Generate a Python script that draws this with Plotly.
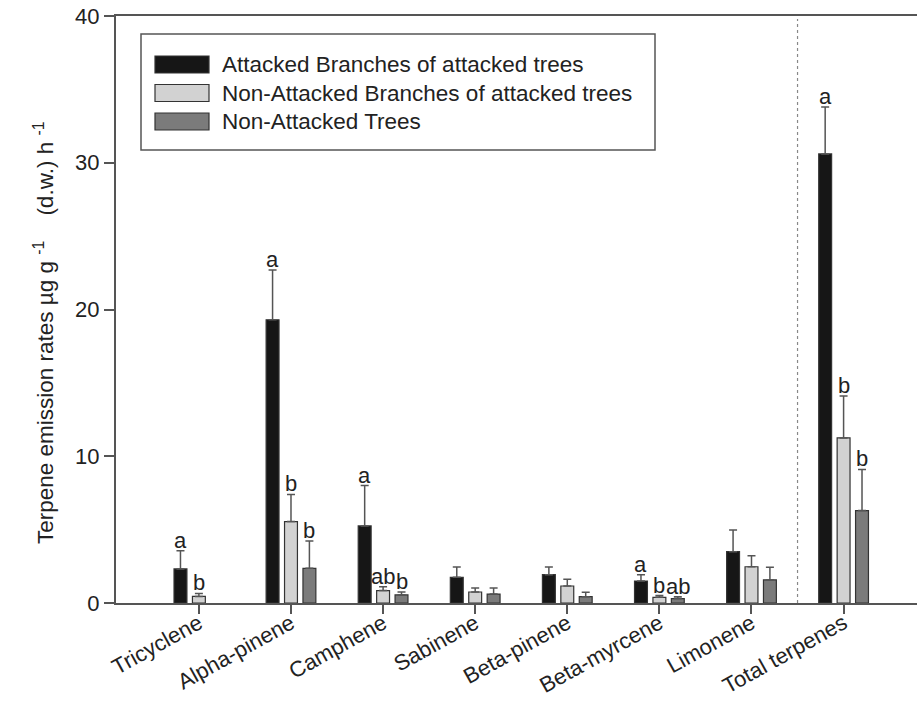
import plotly.graph_objects as go

categories = ["Tricyclene", "Alpha-pinene", "Camphene", "Sabinene", "Beta-pinene",
              "Beta-myrcene", "Limonene", "Total terpenes"]
series_names = ["Attacked Branches of attacked trees",
                "Non-Attacked Branches of attacked trees",
                "Non-Attacked Trees"]
attacked = [2.32, 19.3, 5.25, 1.75, 1.93, 1.5, 3.5, 30.6]
attacked_err = [1.24, 3.4, 2.75, 0.7, 0.52, 0.43, 1.47, 3.2]
nonatt_branch = [0.45, 5.55, 0.85, 0.75, 1.16, 0.39, 2.47, 11.25]
nonatt_branch_err = [0.2, 1.85, 0.25, 0.27, 0.45, 0.12, 0.75, 2.85]
nonatt_trees = [None, 2.36, 0.55, 0.61, 0.43, 0.3, 1.57, 6.3]
nonatt_trees_err = [None, 1.86, 0.2, 0.41, 0.3, 0.12, 0.86, 2.8]
letters_attacked = ["a", "a", "a", "", "", "a", "", "a"]
letters_nonatt_branch = ["b", "b", "ab", "", "", "b", "", "b"]
letters_nonatt_trees = ["", "b", "b", "", "", "ab", "", "b"]
y_ticks = [0, 10, 20, 30, 40]
y_title = "Terpene emission rates µg g <sup>-1</sup>    (d.w.) h <sup>-1</sup>"

colors = ["#161616", "#d2d2d2", "#7b7b7b"]
FONT = "Arial, Liberation Sans, sans-serif"

W, H = 917, 704
ML, MR, MT, MB = 116, 0, 16, 101

fig = go.Figure()
data = [(attacked, attacked_err), (nonatt_branch, nonatt_branch_err), (nonatt_trees, nonatt_trees_err)]
for name, (vals, errs), col in zip(series_names, data, colors):
    fig.add_trace(go.Bar(
        x=categories, y=vals, name=name,
        marker=dict(color=col, line=dict(color="#333333", width=1.2)),
        error_y=dict(type="data", symmetric=False, array=[e if e is not None else 0 for e in errs],
                     arrayminus=[0] * len(errs), color="#555555", thickness=1.5, width=4),
        showlegend=False,
    ))

# significance letters
offsets = [-0.2, 0.0, 0.2]
for letters, (vals, errs), off in zip([letters_attacked, letters_nonatt_branch, letters_nonatt_trees], data, offsets):
    for i, (lab, v, e) in enumerate(zip(letters, vals, errs)):
        if lab and v is not None:
            fig.add_annotation(x=i + off, y=v + (e or 0), xref="x", yref="y", text=lab,
                               showarrow=False, yanchor="bottom", yshift=-4,
                               font=dict(size=22, color="#222222", family=FONT))

# dotted separator between Limonene and Total terpenes
sep = (categories.index("Limonene") + categories.index("Total terpenes")) / 2
fig.add_shape(type="line", xref="x", yref="y", x0=sep, x1=sep, y0=0, y1=39.8,
              line=dict(color="#888888", width=1.2, dash="dot"))

# custom legend
pw, ph = W - ML - MR, H - MT - MB
def px(x): return (x - ML) / pw
def py(y): return (H - MB - y) / ph

fig.add_shape(type="rect", xref="paper", yref="paper", x0=px(141), x1=px(655), y0=py(150), y1=py(34),
              line=dict(color="#555555", width=1.5), fillcolor="white")
row_y = [64.5, 93, 121.5]
for name, col, ry in zip(series_names, colors, row_y):
    fig.add_shape(type="rect", xref="paper", yref="paper", x0=px(155), x1=px(209),
                  y0=py(ry + 8.5), y1=py(ry - 8.5),
                  line=dict(color="#333333", width=1.2), fillcolor=col)
    fig.add_annotation(xref="paper", yref="paper", x=px(220), y=py(ry), text=name,
                       showarrow=False, xanchor="left", yanchor="middle",
                       font=dict(size=22.5, color="#222222", family=FONT))

# y-axis title
fig.add_annotation(xref="paper", yref="paper", x=px(44), y=py(333), text=y_title,
                   textangle=-90, showarrow=False, xanchor="center", yanchor="middle",
                   font=dict(size=22.5, color="#222222", family=FONT))

fig.update_layout(
    width=W, height=H,
    margin=dict(l=ML, r=MR, t=MT, b=MB, autoexpand=False),
    plot_bgcolor="white", paper_bgcolor="white",
    barmode="group", bargap=0.4, bargroupgap=0.3,
    font=dict(family=FONT, size=22, color="#222222"),
    xaxis=dict(type="category", range=[-0.9, -0.9 + pw / 92.1], showline=True, mirror=True,
               linecolor="#555555", linewidth=2, ticks="outside", ticklen=9, tickwidth=1.5,
               tickcolor="#555555", tickangle=-29, tickfont=dict(size=22, family=FONT),
               ticklabelstandoff=-12,
               showgrid=False, zeroline=False, automargin=False),
    yaxis=dict(range=[0, 40], tickvals=y_ticks, showline=True, mirror=False,
               linecolor="#555555", linewidth=2, ticks="outside", ticklen=10, tickwidth=1.5,
               tickcolor="#555555", tickfont=dict(size=22, family=FONT),
               showgrid=False, zeroline=False, automargin=False),
)

fig.write_html("out.html")
